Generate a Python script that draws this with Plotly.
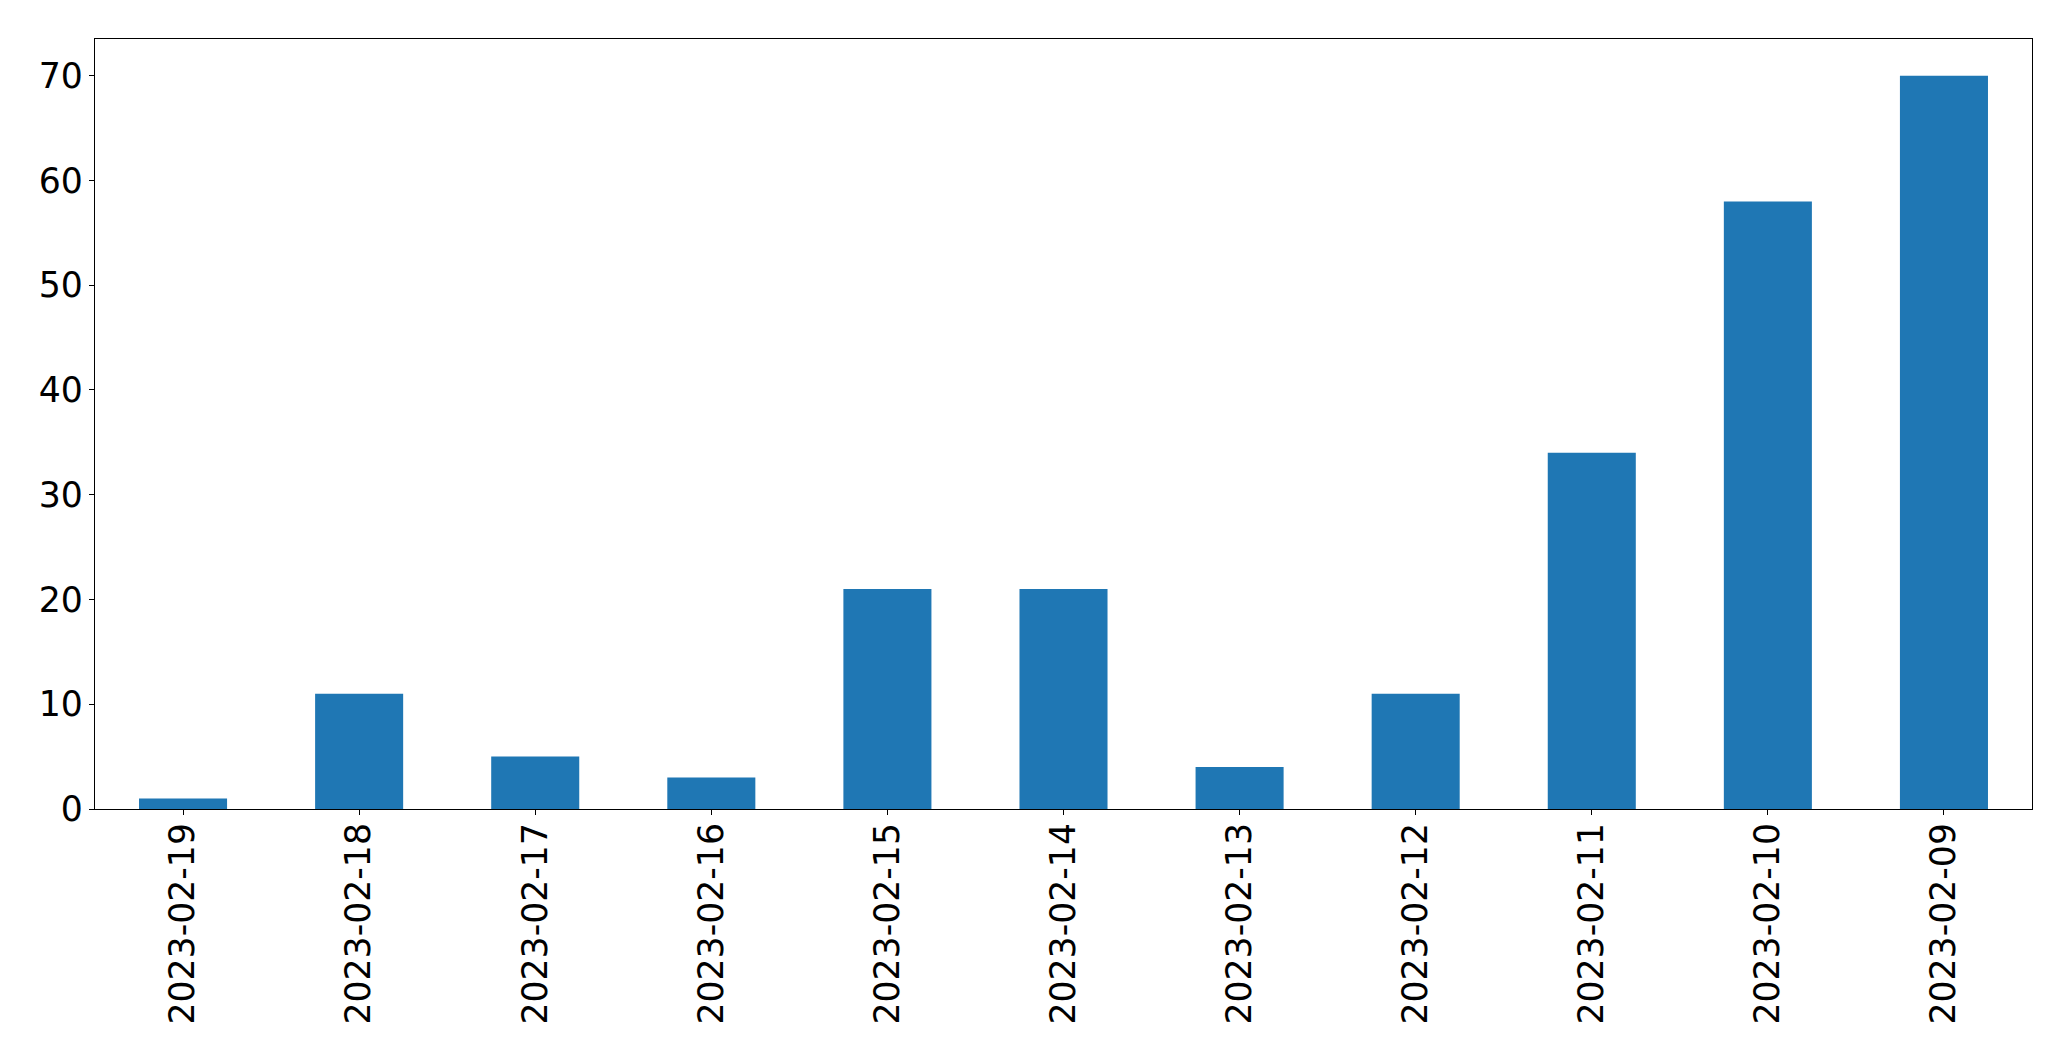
import plotly.graph_objects as go

dates = ["2023-02-19", "2023-02-18", "2023-02-17", "2023-02-16", "2023-02-15",
         "2023-02-14", "2023-02-13", "2023-02-12", "2023-02-11", "2023-02-10", "2023-02-09"]
counts = [1, 11, 5, 3, 21, 21, 4, 11, 34, 58, 70]
y_ticks = [0, 10, 20, 30, 40, 50, 60, 70]

fig = go.Figure(go.Bar(x=dates, y=counts, width=0.5, marker=dict(color="#1f77b4", line=dict(width=0))))

font = dict(family="DejaVu Sans", size=34.7, color="black")
fig.update_layout(
    width=2071, height=1061,
    margin=dict(l=87, r=47, t=31, b=260),
    paper_bgcolor="white", plot_bgcolor="white",
    showlegend=False,
    font=font,
)
fig.update_xaxes(
    type="category", range=[-0.5, 10.5], tickangle=-90, automargin=False,
    showline=True, linecolor="black", linewidth=1.3, mirror=True,
    ticks="outside", ticklen=5, tickwidth=1.3, tickcolor="black",
    showgrid=False, zeroline=False, tickfont=font, ticklabelstandoff=-6,
)
fig.update_yaxes(
    range=[0, 73.5], tickvals=y_ticks, automargin=False,
    showline=True, linecolor="black", linewidth=1.3, mirror=True,
    ticks="outside", ticklen=5, tickwidth=1.3, tickcolor="black",
    showgrid=False, zeroline=False, tickfont=font, ticklabelstandoff=-1,
)
fig.write_html("out.html")
